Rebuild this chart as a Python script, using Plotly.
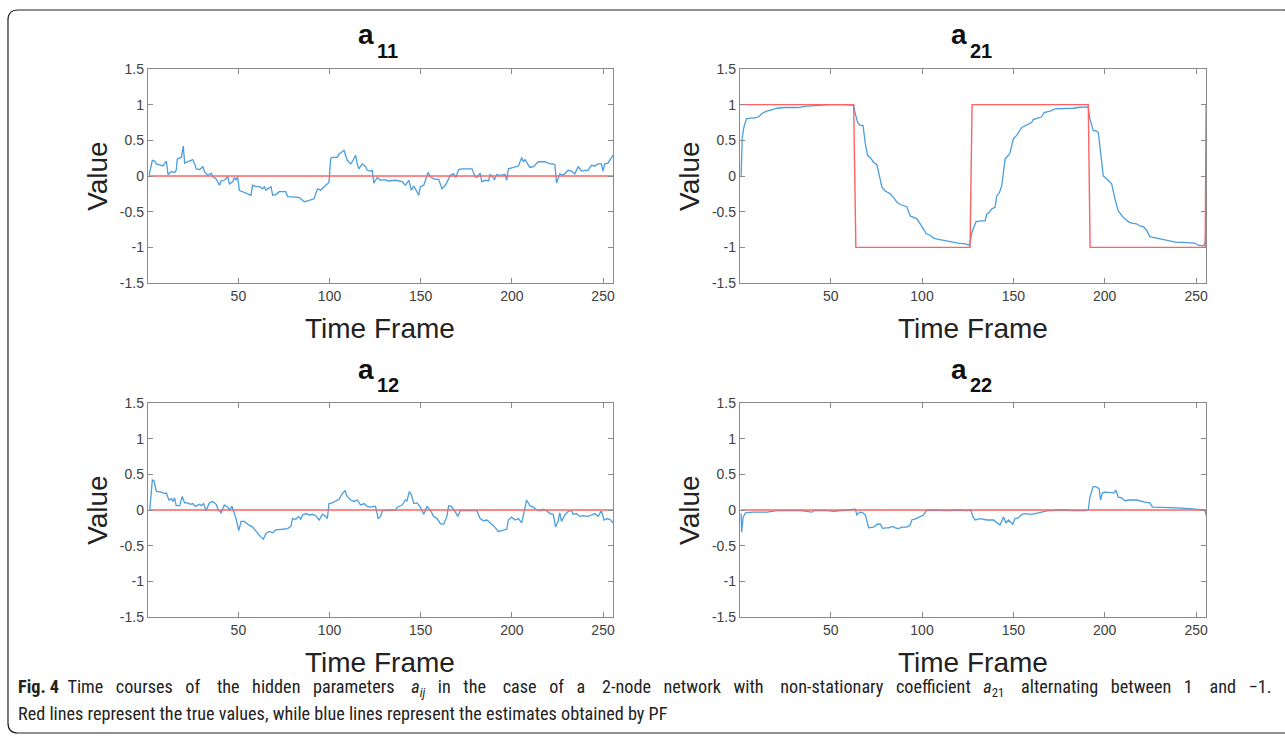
import plotly.graph_objects as go

W, H = 1285, 742

# ---------------- data ----------------
x_ticks = [50, 100, 150, 200, 250]
y_ticks = [-1.5, -1, -0.5, 0, 0.5, 1, 1.5]
y_tick_labels = ["-1.5", "-1", "-0.5", "0", "0.5", "1", "1.5"]

a11_t = [1.0, 2.8, 4.1, 5.0, 7.7, 8.6, 10.5, 11.4, 13.2, 15.0, 15.9, 16.5, 18.7, 19.8, 20.5, 22.3,
         25.0, 26.0, 26.9, 28.7, 30.5, 31.4, 32.3, 33.2, 35.1, 36.0, 37.8, 39.6, 40.5, 42.3, 44.2,
         45.1, 46.9, 47.8, 48.7, 49.6, 50.5, 52.4, 56.0, 56.9, 57.8, 59.6, 61.5, 63.3, 64.2, 65.1,
         66.0, 67.9, 68.8, 70.6, 72.4, 76.0, 77.0, 78.8, 81.5, 83.3, 85.2, 86.1, 87.9, 89.7, 91.5,
         93.4, 95.2, 97.0, 98.8, 99.7, 100.6, 101.5, 104.3, 105.2, 107.0, 107.9, 109.7, 111.6,
         112.5, 114.3, 115.2, 116.1, 117.9, 119.8, 120.7, 122.5, 123.4, 124.3, 126.2, 128.0, 129.8,
         132.5, 136.2, 139.8, 141.6, 143.5, 144.9, 146.2, 147.1, 148.9, 149.8, 151.7, 154.0, 155.3,
         157.1, 159.9, 161.7, 163.5, 165.3, 166.2, 168.0, 169.3, 170.8, 172.6, 178.1, 179.9, 180.8,
         182.6, 183.5, 185.4, 187.2, 188.1, 189.0, 190.5, 191.7, 193.5, 196.3, 197.2, 198.1, 201.7,
         203.6, 205.4, 206.3, 207.2, 209.9, 211.8, 214.5, 218.1, 220.9, 222.7, 223.6, 224.5, 226.3,
         228.2, 230.9, 232.7, 234.5, 236.4, 238.2, 240.0, 241.8, 243.6, 245.5, 247.3, 249.1, 250.0,
         250.9, 252.7, 255.5]
a11_v = [0.01, 0.22, 0.21, 0.17, 0.15, 0.14, 0.21, 0.02, 0.06, 0.05, 0.08, 0.24, 0.26, 0.42, 0.18, 0.20,
         0.23, 0.17, 0.10, 0.09, 0.13, 0.06, 0.03, 0.01, 0.04, -0.01, -0.04, -0.13, -0.07, -0.06, -0.01,
         -0.11, -0.08, -0.02, -0.06, -0.01, -0.20, -0.22, -0.25, -0.27, -0.13, -0.15, -0.15, -0.18, -0.15, -0.20,
         -0.18, -0.15, -0.27, -0.26, -0.22, -0.22, -0.29, -0.29, -0.30, -0.30, -0.34, -0.36, -0.35, -0.34, -0.32,
         -0.18, -0.20, -0.15, -0.11, -0.09, 0.24, 0.26, 0.26, 0.31, 0.34, 0.36, 0.22, 0.17,
         0.20, 0.29, 0.17, 0.10, 0.17, 0.13, 0.08, 0.07, 0.08, -0.10, -0.02, -0.06, -0.05,
         -0.07, -0.06, -0.08, -0.13, -0.06, -0.20, -0.14, -0.18, -0.27, -0.15, -0.13, 0.05, -0.01,
         -0.04, -0.05, -0.18, -0.13, -0.04, 0.01, 0.03, -0.02, 0.09, 0.10, 0.10, -0.01, -0.02,
         0.04, -0.08, -0.06, -0.07, 0.02, 0.00, -0.05, 0.02, 0.01, 0.02, -0.06, 0.10, 0.12,
         0.14, 0.26, 0.20, 0.23, 0.12, 0.13, 0.20, 0.20, 0.17, 0.17, 0.16, -0.10, 0.03,
         0.01, 0.08, 0.07, 0.03, 0.13, 0.07, 0.08, 0.08, 0.15, 0.14, 0.17, 0.17, 0.07,
         0.17, 0.18, 0.29]

a12_t = [1.4, 2.8, 3.7, 5.0, 7.7, 9.6, 10.5, 11.9, 13.2, 14.1, 15.0, 15.9, 17.8, 19.2, 20.5, 22.3,
         23.6, 25.0, 26.5, 28.7, 29.6, 30.9, 32.3, 34.1, 36.0, 37.8, 38.7, 40.5, 42.3, 44.2, 45.1,
         46.5, 47.8, 48.7, 50.2, 51.5, 53.3, 55.1, 57.8, 60.6, 62.4, 63.7, 65.1, 66.9, 68.8, 70.6,
         72.4, 74.2, 77.0, 78.8, 79.7, 81.5, 83.0, 84.2, 85.2, 87.0, 89.2, 90.6, 92.4, 94.3, 96.1,
         97.9, 98.8, 99.7, 101.5, 103.4, 105.2, 107.0, 108.5, 109.7, 111.6, 113.4, 115.2, 117.0,
         118.9, 120.7, 122.5, 124.3, 125.2, 126.7, 128.0, 128.9, 132.5, 136.2, 137.1, 139.8, 141.6,
         142.5, 143.8, 144.9, 146.2, 148.0, 149.8, 151.7, 153.5, 155.3, 157.1, 159.0, 160.8, 162.6,
         164.4, 165.3, 166.8, 168.6, 170.4, 171.7, 174.4, 176.2, 178.9, 180.8, 182.6, 184.4, 186.3,
         188.1, 189.9, 192.6, 195.4, 197.2, 198.1, 199.9, 201.7, 203.6, 205.4, 206.8, 208.1, 209.9,
         211.8, 213.6, 215.4, 217.2, 219.1, 220.9, 222.7, 224.0, 225.4, 226.3, 227.2, 229.1, 230.9,
         232.7, 233.6, 235.4, 237.3, 239.1, 241.8, 243.6, 245.5, 247.3, 249.1, 250.6, 252.4, 254.2,
         255.5]
a12_v = [0.00, 0.42, 0.41, 0.26, 0.25, 0.23, 0.24, 0.14, 0.16, 0.12, 0.17, 0.06, 0.06, 0.19, 0.10, 0.10,
         0.08, 0.09, 0.05, 0.08, 0.06, 0.09, -0.01, 0.10, 0.12, 0.08, 0.02, -0.04, 0.07, 0.04, 0.00,
         0.05, -0.05, -0.12, -0.29, -0.16, -0.16, -0.20, -0.24, -0.33, -0.38, -0.41, -0.33, -0.30, -0.32, -0.28,
         -0.28, -0.27, -0.26, -0.23, -0.12, -0.13, -0.09, -0.13, -0.07, -0.05, -0.07, -0.06, -0.08, -0.14, -0.06,
         -0.09, -0.12, 0.09, 0.10, 0.12, 0.15, 0.23, 0.27, 0.19, 0.14, 0.12, 0.14, 0.07,
         0.09, 0.05, 0.04, 0.05, 0.05, -0.12, -0.09, -0.01, -0.01, 0.00, 0.04, 0.07, 0.14,
         0.13, 0.26, 0.21, 0.09, 0.10, 0.04, -0.06, 0.05, 0.00, -0.09, -0.12, -0.19, -0.20,
         -0.09, 0.06, 0.05, -0.01, -0.09, -0.01, -0.01, -0.01, -0.02, -0.01, -0.12, -0.15, -0.14,
         -0.18, -0.22, -0.30, -0.28, -0.27, -0.14, -0.10, -0.14, -0.12, -0.18, 0.00, 0.14, 0.06,
         0.04, 0.00, -0.01, 0.01, -0.01, -0.05, -0.06, -0.24, -0.15, -0.04, -0.16, -0.07, -0.02,
         -0.01, -0.06, -0.05, -0.09, -0.08, -0.09, -0.07, -0.05, -0.09, -0.01, -0.14, -0.12, -0.14,
         -0.18]

a21_t = [1.0, 1.6, 2.5, 3.9, 6.1, 7.9, 10.7, 12.5, 15.2, 17.9, 20.7, 24.3, 31.6, 37.1, 42.5, 49.8,
         57.1, 62.6, 63.5, 64.8, 66.2, 67.7, 69.0, 70.2, 72.0, 73.5, 75.3, 78.1, 79.9, 82.6, 84.4,
         86.3, 88.1, 91.7, 93.5, 95.4, 97.2, 99.0, 100.8, 102.3, 104.5, 106.3, 109.0, 113.6, 116.3,
         119.9, 123.6, 126.0, 127.3, 128.2, 129.6, 132.7, 134.5, 135.5, 136.9, 138.2, 140.0, 140.9,
         142.4, 143.6, 144.6, 145.5, 147.3, 148.2, 150.0, 151.8, 154.6, 157.3, 160.0, 160.9, 162.8,
         165.5, 166.8, 170.1, 172.8, 177.3, 182.8, 185.5, 190.1, 191.0, 191.9, 193.7, 195.6, 196.5,
         197.7, 199.2, 201.0, 203.8, 205.6, 207.4, 210.1, 212.9, 214.7, 217.4, 219.2, 221.1, 222.9,
         224.7, 226.5, 228.3, 232.0, 235.6, 239.3, 242.9, 249.3, 251.1, 253.9, 254.8, 255.5]
a21_v = [0.00, 0.54, 0.68, 0.80, 0.81, 0.81, 0.83, 0.88, 0.91, 0.93, 0.95, 0.96, 0.96, 0.98, 0.99, 1.00,
         1.00, 0.99, 0.87, 0.75, 0.71, 0.71, 0.45, 0.29, 0.25, 0.19, 0.16, -0.16, -0.21, -0.25, -0.30,
         -0.37, -0.40, -0.43, -0.56, -0.58, -0.60, -0.67, -0.74, -0.81, -0.83, -0.87, -0.89, -0.91, -0.93,
         -0.94, -0.95, -0.97, -0.79, -0.74, -0.64, -0.63, -0.63, -0.53, -0.51, -0.46, -0.44, -0.28,
         -0.23, -0.14, 0.03, 0.24, 0.29, 0.33, 0.52, 0.57, 0.68, 0.72, 0.75, 0.79, 0.81,
         0.83, 0.89, 0.91, 0.94, 0.94, 0.95, 0.96, 0.97, 0.96, 0.80, 0.64, 0.63, 0.61,
         0.36, 0.00, -0.04, -0.11, -0.32, -0.49, -0.58, -0.64, -0.66, -0.67, -0.70, -0.71, -0.76,
         -0.85, -0.86, -0.87, -0.89, -0.92, -0.93, -0.93, -0.94, -0.97, -0.98, -0.95, -0.79]

a22_t = [1.0, 1.3, 2.1, 3.4, 7.9, 11.6, 12.5, 15.2, 20.7, 26.1, 33.4, 39.8, 40.7, 48.0, 51.6, 58.9,
         63.5, 64.4, 65.9, 67.7, 69.0, 70.8, 73.5, 75.3, 77.1, 78.6, 79.9, 81.7, 84.1, 85.3, 87.2,
         89.0, 91.7, 93.5, 94.4, 96.8, 99.0, 100.8, 102.3, 106.3, 113.6, 120.9, 124.5, 126.7, 127.8,
         129.1, 131.8, 135.4, 139.1, 140.9, 142.7, 144.6, 146.0, 147.3, 149.7, 150.9, 152.8, 154.6,
         156.4, 160.0, 163.7, 166.4, 169.1, 171.9, 173.7, 177.3, 182.8, 189.2, 191.0, 191.9, 193.7,
         195.6, 197.0, 197.7, 198.8, 200.1, 202.8, 205.0, 206.1, 207.4, 209.2, 211.0, 213.8, 217.4,
         222.0, 224.7, 226.2, 232.0, 239.3, 246.6, 252.0, 254.8, 255.5]
a22_v = [-0.05, -0.31, -0.10, -0.04, -0.03, -0.03, -0.04, -0.03, -0.01, -0.01, -0.01, -0.03, -0.01, -0.01, -0.02, 0.00,
         0.01, -0.07, -0.03, -0.04, -0.07, -0.25, -0.24, -0.20, -0.20, -0.26, -0.25, -0.25, -0.23, -0.25, -0.26,
         -0.24, -0.24, -0.21, -0.14, -0.12, -0.09, -0.07, -0.01, 0.00, -0.01, 0.00, -0.01, 0.00, -0.09,
         -0.14, -0.12, -0.14, -0.14, -0.17, -0.21, -0.10, -0.18, -0.14, -0.20, -0.12, -0.11, -0.06,
         -0.05, -0.06, -0.04, -0.03, -0.01, -0.01, 0.00, 0.00, -0.01, -0.01, 0.00, 0.18, 0.33,
         0.32, 0.30, 0.14, 0.24, 0.25, 0.25, 0.24, 0.28, 0.18, 0.17, 0.13, 0.14, 0.14,
         0.11, 0.10, 0.04, 0.04, 0.03, 0.02, 0.01, 0.00, -0.07]

true_flat_t = [1, 255.5]
true_flat_v = [0, 0]
true_a21_t = [1, 62.6, 63.8, 126.3, 127.4, 191.0, 192.0, 255.0, 255.5]
true_a21_v = [1, 1, -1, -1, 1, 1, -1, -1, 1]

panels = [
    ("11", a11_t, a11_v, true_flat_t, true_flat_v),
    ("21", a21_t, a21_v, true_a21_t, true_a21_v),
    ("12", a12_t, a12_v, true_flat_t, true_flat_v),
    ("22", a22_t, a22_v, true_flat_t, true_flat_v),
]

caption_line1_words = ["<b>Fig. 4</b>", "Time", "courses", "of", "the", "hidden", "parameters",
                       "<i>a<sub>ij</sub></i>", "in", "the", "case", "of", "a", "2-node", "network",
                       "with", "non-stationary", "coefficient", "<i>a</i><sub>21</sub>", "alternating",
                       "between", "1", "and", "\u22121."]
caption_line2 = "Red lines represent the true values, while blue lines represent the estimates obtained by PF"

# ---------------- layout geometry (pixels in the 1285x742 target) ----------------
# the page renders the figure 726 px tall starting 8 px down; map target pixels accordingly
Y_OFF, Y_SPAN = 8.0, 726.0


def fx(px):
    return px / W


def fy(py):
    return 1 - (py - Y_OFF) / Y_SPAN


col_x = [(148, 614), (741, 1208)]
row_y = [(69, 283), (403, 617)]
BLUE = "#4a9ede"
RED = "#ff6262"
AXC = "#8a8a8a"
TXT = "#404040"
FONT = "Liberation Sans, Arial, Helvetica, sans-serif"

fig = go.Figure()
annotations = []
layout_axes = {}

for i, (num, et, ev, tt, tv) in enumerate(panels):
    r, c = divmod(i, 2)
    x0, x1 = col_x[c]
    y0, y1 = row_y[r]
    sfx = "" if i == 0 else str(i + 1)
    xa, ya = "x" + sfx, "y" + sfx
    fig.add_trace(go.Scatter(x=et, y=ev, mode="lines", line=dict(color=BLUE, width=1.3),
                             xaxis=xa, yaxis=ya, showlegend=False, hoverinfo="skip"))
    fig.add_trace(go.Scatter(x=tt, y=tv, mode="lines", line=dict(color=RED, width=1.4),
                             xaxis=xa, yaxis=ya, showlegend=False, hoverinfo="skip"))
    common = dict(showline=True, linecolor=AXC, linewidth=1, mirror="ticks", ticks="inside",
                  ticklen=5, tickcolor=AXC, showgrid=False, zeroline=False,
                  tickfont=dict(family=FONT, size=14, color=TXT))
    layout_axes["xaxis" + sfx] = dict(domain=[fx(x0), fx(x1)], anchor=ya, range=[0.3, 255.5],
                                      tickvals=x_ticks, **common)
    layout_axes["yaxis" + sfx] = dict(domain=[fy(y1), fy(y0)], anchor=xa, range=[-1.5, 1.5],
                                      tickvals=y_ticks, ticktext=y_tick_labels, **common)
    cx = (x0 + x1) / 2
    annotations.append(dict(x=fx(cx - 4), y=fy(y0 - 34), xref="paper", yref="paper",
                            text="<b>a</b>", showarrow=False, xanchor="right", yanchor="middle",
                            font=dict(family=FONT, size=28, color="#111")))
    annotations.append(dict(x=fx(cx - 5), y=fy(y0 - 18), xref="paper", yref="paper",
                            text="<b>" + num + "</b>", showarrow=False, xanchor="left", yanchor="middle",
                            font=dict(family=FONT, size=20, color="#111")))
    annotations.append(dict(x=fx(cx), y=fy(y1 + 45), xref="paper", yref="paper",
                            text="Time Frame", showarrow=False, xanchor="center", yanchor="middle",
                            font=dict(family=FONT, size=28, color="#222")))
    annotations.append(dict(x=fx(x0 - 51), y=fy((y0 + y1) / 2), xref="paper", yref="paper",
                            text="Value", showarrow=False, textangle=-90, xanchor="center",
                            yanchor="middle", font=dict(family=FONT, size=28, color="#222")))

# caption (line 1 is justified in the reference -> widen word gaps)
CAP_FONT = "Liberation Sans Narrow, Roboto Condensed, Liberation Sans, sans-serif"
parts = [caption_line1_words[0] + "\u00a0\u00a0"]
for k, w in enumerate(caption_line1_words[1:]):
    if k > 0:
        parts.append(" \u00a0\u00a0\u00a0" if k % 3 == 0 else " \u00a0\u00a0")
    parts.append(w)
line1 = "".join(parts)
annotations.append(dict(x=fx(16), y=fy(688), xref="paper", yref="paper", showarrow=False,
                        xanchor="left", yanchor="middle", align="left", text=line1,
                        font=dict(family=CAP_FONT, size=18.2, color="#222")))
annotations.append(dict(x=fx(16), y=fy(713), xref="paper", yref="paper", showarrow=False,
                        xanchor="left", yanchor="middle", align="left", text=caption_line2,
                        font=dict(family=CAP_FONT, size=18.2, color="#222")))


def P(px, py):
    return f"{fx(px):.5f},{fy(py):.5f}"


bx0, by0, bx1, by1, rad = 8, 10, 1295, 733, 10
path = (f"M {P(bx0, by0 + rad)} Q {P(bx0, by0)} {P(bx0 + rad, by0)} L {P(bx1 - rad, by0)} "
        f"Q {P(bx1, by0)} {P(bx1, by0 + rad)} L {P(bx1, by1 - rad)} Q {P(bx1, by1)} {P(bx1 - rad, by1)} "
        f"L {P(bx0 + rad, by1)} Q {P(bx0, by1)} {P(bx0, by1 - rad)} Z")

fig.update_layout(
    width=W, height=H, autosize=False,
    margin=dict(l=0, r=0, t=0, b=0),
    paper_bgcolor="white", plot_bgcolor="white",
    annotations=annotations,
    shapes=[dict(type="path", path=path, xref="paper", yref="paper",
                 line=dict(color="#222", width=1.2), fillcolor="rgba(0,0,0,0)", layer="below")],
    **layout_axes,
)

fig.write_html("out.html")
